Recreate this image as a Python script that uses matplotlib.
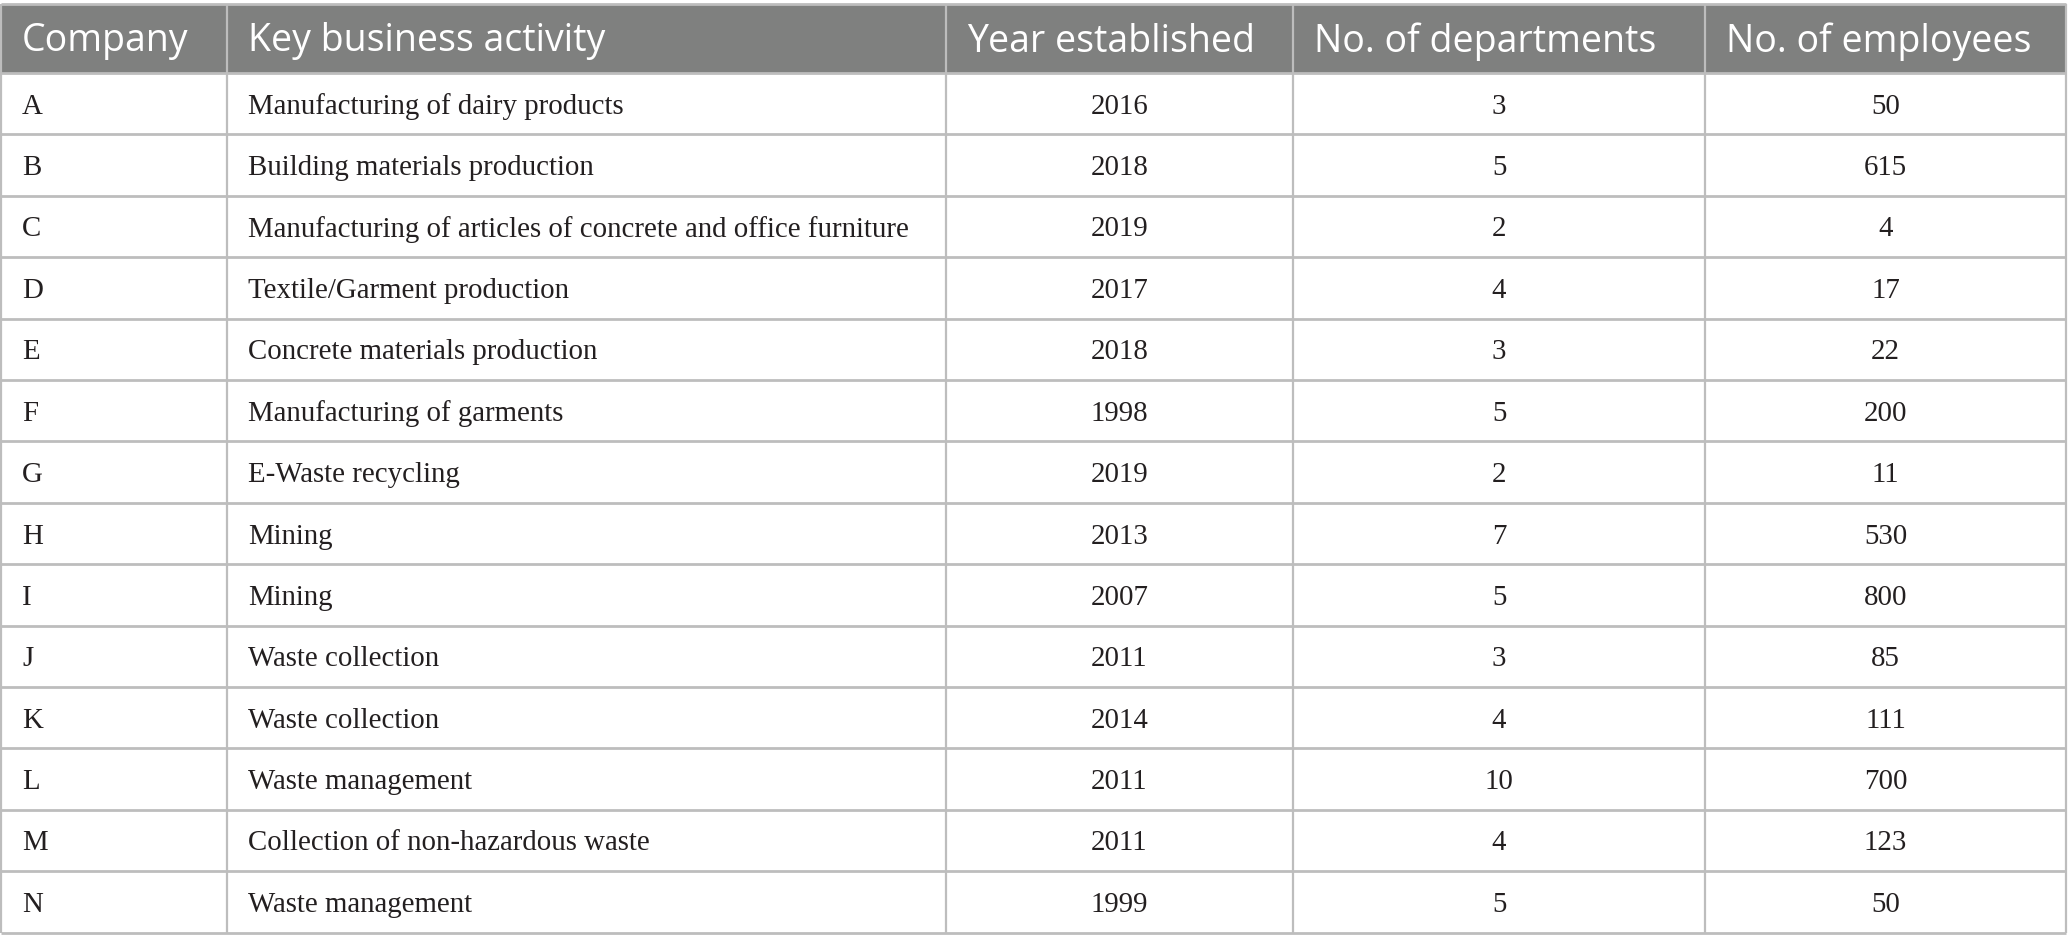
import matplotlib
matplotlib.use("Agg")
import matplotlib.pyplot as plt
from matplotlib.patches import Rectangle

# table content
headers = ["Company", "Key business activity", "Year established",
           "No. of departments", "No. of employees"]
companies = list("ABCDEFGHIJKLMN")
activities = [
    "Manufacturing of dairy products",
    "Building materials production",
    "Manufacturing of articles of concrete and office furniture",
    "Textile/Garment production",
    "Concrete materials production",
    "Manufacturing of garments",
    "E-Waste recycling",
    "Mining",
    "Mining",
    "Waste collection",
    "Waste collection",
    "Waste management",
    "Collection of non-hazardous waste",
    "Waste management",
]
years = [2016, 2018, 2019, 2017, 2018, 1998, 2019, 2013, 2007, 2011, 2014, 2011, 2011, 1999]
departments = [3, 5, 2, 4, 3, 5, 2, 7, 5, 3, 4, 10, 4, 5]
employees = [50, 615, 4, 17, 22, 200, 11, 530, 800, 85, 111, 700, 123, 50]

# layout (pixels)
W, H = 2068, 950
col_edges = [1, 227, 946, 1293, 1705, 2066]
top, head_bot, row_h = 4, 73, 61.4
pad = 21
line_c = "#bdbdbd"
head_c = "#7f807f"

fig = plt.figure(figsize=(W / 100, H / 100), dpi=100)
ax = fig.add_axes([0, 0, 1, 1])
ax.set_xlim(0, W)
ax.set_ylim(H, 0)
ax.axis("off")

n = len(companies)
bottom = head_bot + n * row_h

# header band
ax.add_patch(Rectangle((col_edges[0], top), col_edges[-1] - col_edges[0],
                       head_bot - top, facecolor=head_c, edgecolor="none"))

# grid lines
ax.hlines([top], col_edges[0], col_edges[-1], color=line_c, lw=2)
ax.hlines([head_bot + i * row_h for i in range(n + 1)], col_edges[0], col_edges[-1],
          color=line_c, lw=2)
ax.vlines(col_edges, top, bottom, color=line_c, lw=1.6)

# header text
for j, h in enumerate(headers):
    ax.text(col_edges[j] + pad, (top + head_bot) / 2 + 3, h, color="white",
            fontsize=27, family="Open Sans", ha="left", va="center")

# body text
cols = [companies, activities, years, departments, employees]
for i in range(n):
    yc = head_bot + (i + 0.5) * row_h
    for j, col in enumerate(cols):
        if j < 2:
            x, ha = col_edges[j] + pad, "left"
        else:
            x, ha = (col_edges[j] + col_edges[j + 1]) / 2, "center"
        ax.text(x, yc + 3, str(col[i]), color="#231f20", fontsize=20.8,
                family="Liberation Serif", ha=ha, va="center")

fig.savefig("out.png", dpi=100, facecolor="white")
